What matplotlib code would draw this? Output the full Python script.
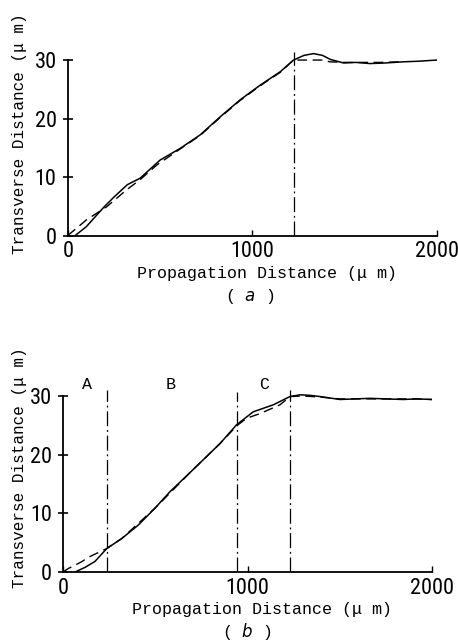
import matplotlib.pyplot as plt

# panel (a)
a_solid_x = [40, 100, 197, 251, 323, 392, 500, 609, 717, 826, 934, 1042, 1151, 1223, 1280, 1331, 1380, 1423, 1494, 1560, 1638, 1720, 1819, 1900, 2000]
a_solid_y = [0, 1.5, 4.9, 6.6, 8.7, 9.8, 12.9, 14.9, 17.2, 20.3, 23.2, 25.7, 28.0, 30.0, 30.8, 31.1, 30.8, 30.1, 29.5, 29.6, 29.4, 29.5, 29.7, 29.8, 30.0]
a_dash_x = [0, 102, 210, 318, 390, 484, 609, 717, 826, 934, 1042, 1151, 1223, 1300, 1380, 1420, 1500, 1600, 1700, 1800]
a_dash_y = [0, 2.7, 4.9, 7.8, 9.5, 12.1, 14.8, 17.1, 20.2, 23.1, 25.6, 27.9, 30.0, 30.0, 30.0, 29.7, 29.6, 29.6, 29.6, 29.7]
a_vlines = [1225]

# panel (b)
b_solid_x = [65, 120, 173, 237, 318, 408, 499, 580, 700, 851, 941, 1031, 1140, 1230, 1285, 1340, 1393, 1501, 1580, 1664, 1750, 1843, 1920, 2000]
b_solid_y = [0, 0.8, 1.8, 4.0, 5.7, 8.0, 10.9, 13.7, 17.3, 21.9, 25.1, 27.3, 28.5, 29.9, 30.2, 30.1, 29.9, 29.4, 29.5, 29.6, 29.5, 29.4, 29.5, 29.4]
b_dash_x = [0, 29, 101, 137, 237, 318, 499, 700, 851, 941, 995, 1068, 1176, 1230, 1300, 1400, 1500, 1700, 1900, 2000]
b_dash_y = [0, 0.6, 1.75, 2.5, 4.0, 5.7, 10.9, 17.3, 21.9, 24.9, 26.2, 27.0, 28.5, 29.9, 30.0, 29.8, 29.5, 29.5, 29.5, 29.4]
b_vlines = [240, 945, 1228]
b_vtops = [31.0, 30.7, 31.0]
b_regions = ['A', 'B', 'C']
b_region_x = [128, 584, 1090]

xticks = [0, 1000, 2000]
yticks = [0, 10, 20, 30]

label_font = ['Liberation Mono', 'Noto Sans CJK SC']
tick_font = ['Liberation Sans Narrow', 'Roboto Condensed', 'Liberation Sans']

fig = plt.figure(figsize=(4.58, 6.43), dpi=100)

ax1 = fig.add_axes([0.148, 0.6337, 0.806, 0.2911])
ax2 = fig.add_axes([0.1376, 0.1104, 0.8057, 0.2966])


def style(ax, ymax):
    ax.set_xlim(0, 2000)
    ax.set_ylim(0, ymax)
    for s in ['top', 'right']:
        ax.spines[s].set_visible(False)
    ax.spines['left'].set_bounds(0, 30)
    ax.spines['left'].set_linewidth(1.3)
    ax.spines['bottom'].set_linewidth(1.3)
    ax.set_xticks(xticks)
    ax.set_yticks(yticks)
    ax.tick_params(axis='y', direction='inout', length=7, width=1.2, pad=4.5)
    ax.tick_params(axis='x', direction='in', length=4, width=1.0, pad=4)
    for t in ax.get_xticklabels() + ax.get_yticklabels():
        t.set_family(tick_font)
        t.set_fontstretch('condensed')
        t.set_fontsize(16)
    ax.set_xlabel('Propagation Distance (μ m)', family=label_font, fontsize=12, labelpad=2.5)
    ax.xaxis.label.set_x(0.54)
    ax.patch.set_alpha(0)


# (a)
ax1.plot(a_solid_x, a_solid_y, color='black', lw=1.1)
ax1.plot(a_dash_x, a_dash_y, color='black', lw=1.0, dashes=(7, 4))
for v in a_vlines:
    ax1.plot([v, v], [0, 31.4], color='black', lw=0.9, dashes=(12, 3, 1.5, 3))
style(ax1, 32)
fig.text(250 / 458, 1 - 296 / 643, '( $a$ )', ha='center', va='center', family=label_font, fontsize=12)
fig.text(20 / 458, 1 - 134 / 643, 'Transverse Distance (μ m)', rotation=90,
         ha='center', va='center', family=label_font, fontsize=11.5)

# (b)
ax2.plot(b_solid_x, b_solid_y, color='black', lw=1.1)
ax2.plot(b_dash_x, b_dash_y, color='black', lw=1.0, dashes=(7, 4))
for v, top in zip(b_vlines, b_vtops):
    ax2.plot([v, v], [0, top], color='black', lw=0.9, dashes=(12, 3, 1.5, 3))
for lab, x in zip(b_regions, b_region_x):
    ax2.text(x, 31.9, lab, ha='center', va='center', family=label_font, fontsize=12)
style(ax2, 32.5)
fig.text(247 / 458, 1 - 632 / 643, '( $b$ )', ha='center', va='center', family=label_font, fontsize=12)
fig.text(20 / 458, 1 - 468 / 643, 'Transverse Distance (μ m)', rotation=90,
         ha='center', va='center', family=label_font, fontsize=11.5)

fig.savefig('out.png', dpi=100)
